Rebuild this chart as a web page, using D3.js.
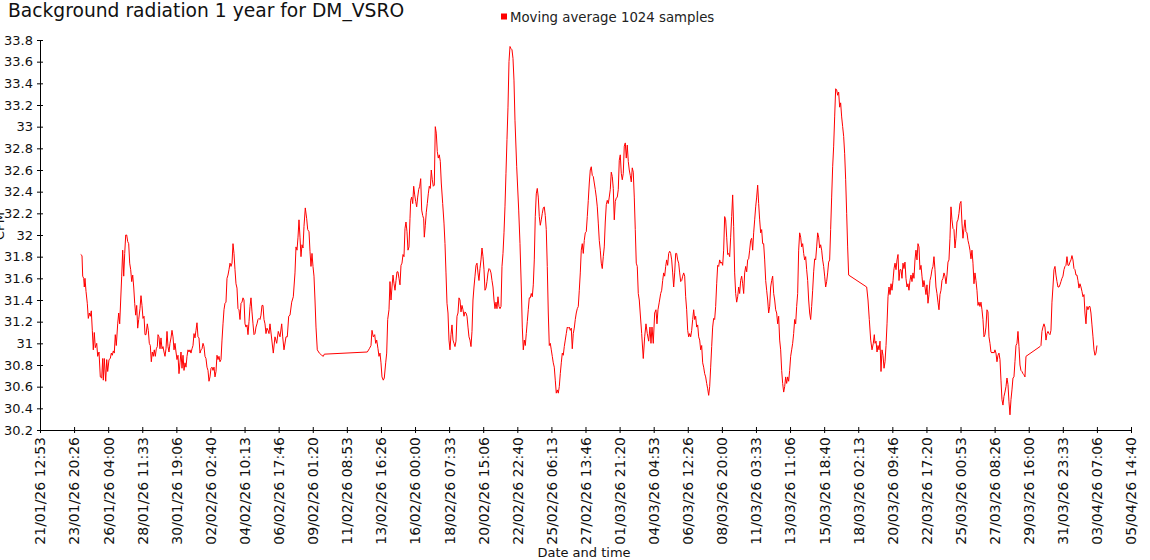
<!DOCTYPE html>
<html><head><meta charset="utf-8">
<script src="https://cdn.jsdelivr.net/npm/d3@7"></script>
<style>
body{margin:0;background:#fff}
svg{display:block}
text{font-family:"DejaVu Sans",Verdana,sans-serif}
</style>
</head><body>
<svg id="chart" width="1150" height="560"></svg>
<script>
const chartTitle = "Background radiation 1 year for DM_VSRO";
const seriesName = "Moving average 1024 samples";
const xAxisTitle = "Date and time";
const yAxisTitle = "CPM";

const yTicks = [30.2,30.4,30.6,30.8,31,31.2,31.4,31.6,31.8,32,32.2,32.4,32.6,32.8,33,33.2,33.4,33.6,33.8];

const xTickLabels = ["21/01/26 12:53","23/01/26 20:26","26/01/26 04:00","28/01/26 11:33","30/01/26 19:06",
"02/02/26 02:40","04/02/26 10:13","06/02/26 17:46","09/02/26 01:20","11/02/26 08:53","13/02/26 16:26",
"16/02/26 00:00","18/02/26 07:33","20/02/26 15:06","22/02/26 22:40","25/02/26 06:13","27/02/26 13:46",
"01/03/26 21:20","04/03/26 04:53","06/03/26 12:26","08/03/26 20:00","11/03/26 03:33","13/03/26 11:06",
"15/03/26 18:40","18/03/26 02:13","20/03/26 09:46","22/03/26 17:20","25/03/26 00:53","27/03/26 08:26",
"29/03/26 16:00","31/03/26 23:33","03/04/26 07:06","05/04/26 14:40"];

// sample time as fractional day of 2026 (0 = 1 Jan 00:00 UTC)
const dayOfYear = [
23.300,23.389,23.436,23.504,23.545,23.592,23.660,23.748,23.816,23.884,23.952,24.020,24.088,24.156,24.223,24.291,24.387,24.454,24.543,24.631,
24.726,24.794,24.835,24.903,24.998,25.066,25.133,25.222,25.310,25.378,25.446,25.514,25.581,25.649,25.717,25.812,25.880,25.948,26.016,26.084,
26.152,26.220,26.288,26.356,26.424,26.491,26.559,26.627,26.695,26.763,26.831,26.899,26.967,27.035,27.102,27.170,27.238,27.326,27.394,27.462,
27.530,27.598,27.666,27.734,27.822,27.890,27.958,28.026,28.094,28.161,28.229,28.297,28.365,28.433,28.501,28.549,28.616,28.684,28.752,28.820,
28.888,28.956,29.024,29.092,29.160,29.227,29.295,29.363,29.431,29.499,29.567,29.635,29.703,29.771,29.838,29.906,29.974,30.042,30.110,30.178,
30.246,30.314,30.382,30.449,30.517,30.585,30.653,30.721,30.789,30.857,30.925,30.993,31.060,31.128,31.196,31.264,31.332,31.400,31.468,31.536,
31.604,31.672,31.739,31.807,31.875,31.943,32.011,32.079,32.147,32.215,32.283,32.351,32.418,32.486,32.554,32.622,32.690,32.758,32.826,32.894,
32.962,33.029,33.097,33.165,33.233,33.301,33.369,33.437,33.505,33.573,33.640,33.708,33.776,33.844,33.912,33.980,34.048,34.116,34.184,34.251,
34.319,34.387,34.455,34.523,34.591,34.659,34.727,34.795,34.862,34.930,34.998,35.066,35.134,35.202,35.270,35.338,35.406,35.473,35.541,35.609,
35.677,35.745,35.813,35.881,35.949,36.017,36.084,
36.152,36.376,36.492,36.607,36.716,36.832,36.947,37.015,37.103,37.239,37.327,37.422,37.511,37.626,37.735,37.850,37.918,37.986,38.054,38.121,
38.189,38.257,38.325,38.393,38.461,38.549,38.644,38.712,38.801,38.868,38.936,39.004,39.072,39.140,39.208,39.276,39.364,39.500,39.663,39.771,39.839,
42.759,42.895,43.010,43.078,43.166,43.261,43.329,43.397,43.485,43.553,43.621,43.689,43.757,43.845,43.913,44.008,44.076,44.144,44.232,44.300,
44.368,44.436,44.504,44.572,44.640,44.707,44.775,44.843,44.911,44.979,45.047,45.115,45.183,45.250,45.318,45.386,45.454,45.522,45.590,45.658,
45.705,45.773,45.841,45.909,45.977,46.045,46.112,46.180,46.248,46.316,46.384,46.452,46.520,46.588,46.629,46.697,46.764,46.832,46.900,46.968,
47.036,47.104,47.172,47.240,47.308,47.375,47.443,47.511,47.579,47.647,47.715,47.783,47.878,47.966,48.034,48.102,48.170,48.238,48.306,48.374,
48.441,48.509,48.577,48.645,48.713,48.781,48.849,48.917,48.985,49.052,49.120,49.188,49.256,49.324,49.392,49.460,49.528,49.596,49.663,49.731,
49.799,49.867,49.935,50.003,50.071,50.139,50.207,50.274,50.342,50.410,50.478,50.546,50.614,50.682,50.750,50.818,50.885,50.953,51.021,51.089,
51.157,51.225,51.293,51.361,51.429,51.496,51.564,51.632,51.700,51.768,51.836,51.904,51.972,52.040,52.107,52.175,52.243,52.311,52.379,52.447,
52.515,52.583,52.651,52.718,52.786,52.902,53.038,53.126,53.214,53.282,53.350,53.418,53.486,53.553,53.621,53.689,53.757,53.825,53.893,53.961,
54.029,54.097,54.164,54.232,54.300,54.368,54.436,54.504,54.572,54.640,54.708,54.775,54.843,54.911,54.979,55.047,55.115,55.183,55.251,55.319,
55.386,55.454,55.522,55.590,55.658,55.726,55.794,55.862,55.930,55.998,56.065,56.133,56.201,56.269,56.337,56.405,56.473,56.541,56.609,56.676,
56.744,56.812,56.880,56.948,57.016,57.084,57.152,57.220,57.287,57.355,57.423,57.491,57.559,57.627,57.695,57.763,57.831,57.898,57.966,58.034,
58.102,58.170,58.238,58.306,58.374,58.442,58.509,58.577,58.645,58.713,58.781,58.849,58.917,58.985,59.053,59.120,59.188,59.256,59.324,59.392,
59.460,59.528,59.596,59.664,59.731,59.799,59.867,59.935,60.003,60.071,60.139,60.207,60.275,60.342,60.410,60.478,60.546,60.614,60.682,60.750,
60.818,60.886,60.953,61.021,61.089,61.157,61.225,
61.388,61.497,61.592,61.680,61.768,61.864,61.952,62.020,62.088,62.176,62.271,62.359,62.427,62.495,62.583,62.678,62.746,62.814,62.882,62.950,
63.018,63.086,63.153,63.221,63.289,63.357,63.425,63.493,63.561,63.629,63.697,63.764,63.832,63.900,63.968,64.036,64.104,64.172,64.240,64.308,
64.375,64.443,64.511,64.579,64.647,64.715,64.783,64.851,64.919,64.986,65.054,65.122,65.190,65.258,65.326,65.394,65.462,65.530,65.597,65.665,
65.733,65.801,65.869,65.937,66.005,66.073,66.141,66.208,66.276,66.344,66.412,66.480,66.548,66.616,66.684,66.752,66.819,66.887,66.955,67.023,
67.091,67.159,67.227,67.295,67.363,67.430,67.498,67.566,67.634,67.702,67.770,67.838,67.906,67.974,68.041,68.109,68.177,68.245,68.313,68.381,
68.449,68.517,68.585,68.652,68.720,68.788,68.856,68.924,68.992,69.060,69.128,69.196,69.263,69.331,69.399,69.467,69.535,69.603,69.671,69.739,
69.807,69.874,69.942,70.010,70.078,70.146,70.214,70.282,70.350,70.418,70.485,70.553,70.621,70.689,70.757,70.825,70.893,70.961,71.029,71.096,
71.164,71.232,71.300,71.368,71.436,71.504,71.572,71.640,71.707,71.775,71.843,71.911,71.979,72.047,72.115,72.183,72.251,72.318,72.386,72.454,
72.522,72.590,72.658,72.726,72.794,72.862,72.929,72.997,73.065,73.133,73.201,73.269,73.337,73.405,73.473,73.540,73.608,73.676,73.744,73.812,
73.880,73.948,74.016,74.084,74.151,74.219,74.287,74.355,74.423,74.491,74.559,74.627,74.695,74.762,74.830,74.898,74.966,75.034,75.102,75.170,
75.238,75.306,75.373,75.441,
76.665,76.755,76.843,76.938,77.027,77.115,77.183,77.231,77.299,77.367,77.435,77.503,77.570,77.638,77.706,77.774,77.842,77.910,77.978,78.046,
78.114,78.181,78.249,78.317,78.385,78.453,78.521,78.589,78.657,78.725,78.792,78.860,78.926,78.994,79.062,79.130,79.197,79.265,79.333,79.401,
79.469,79.537,79.605,79.673,79.741,79.808,79.876,79.944,80.012,80.080,80.148,80.216,80.284,80.352,80.419,80.487,80.555,80.623,80.691,80.759,
80.827,80.895,80.963,81.030,81.098,81.166,81.234,81.302,81.370,81.438,81.506,81.574,81.641,81.709,81.777,81.845,81.913,81.981,82.049,82.117,
82.185,82.252,82.320,82.388,82.456,82.524,82.592,82.660,82.728,82.796,82.863,82.931,82.999,83.067,83.135,83.203,83.271,83.339,83.407,83.474,
83.542,83.610,83.678,83.746,83.814,83.882,83.950,84.018,84.085,84.153,84.221,84.289,84.357,84.425,84.493,84.561,84.629,84.696,84.764,84.832,
84.900,84.968,85.036,85.104,85.172,85.240,85.307,85.375,85.443,85.511,85.579,85.647,85.715,85.783,85.851,85.918,85.986,86.054,86.122,86.190,
86.258,86.326,86.394,86.462,86.529,86.597,86.665,86.733,86.801,86.869,86.937,87.005,87.073,87.140,87.208,87.276,87.344,87.412,87.480,
88.430,88.498,88.566,88.634,88.702,88.770,88.838,88.906,88.974,89.042,89.110,89.177,89.245,89.313,89.381,89.449,89.517,89.585,89.653,89.721,
89.788,89.856,89.924,89.992,90.060,90.128,90.196,90.264,90.332,90.399,90.467,90.535,90.603,90.671,90.739,90.807,90.875,90.943,91.010,91.078,
91.146,91.214,91.282,91.350,91.418,91.486,91.554,91.621,91.689,91.757,91.825,91.893,91.961,92.029,92.097,92.165,92.232,92.300
];

// moving average, counts per minute
const cpm = [
31.82,31.81,31.62,31.60,31.52,31.60,31.48,31.37,31.23,31.28,31.25,31.30,31.12,30.94,31.10,30.96,31.00,30.88,30.92,30.69,
30.68,30.86,30.66,30.86,30.65,30.85,30.74,30.85,30.86,30.91,30.89,30.93,30.91,31.08,30.98,31.18,31.28,31.18,31.40,31.62,
31.86,31.62,31.83,32.00,32.00,31.94,31.92,31.74,31.68,31.57,31.63,31.52,31.37,31.26,31.35,31.14,31.22,31.32,31.44,31.35,
31.23,31.25,31.08,31.08,31.18,31.12,31.00,30.98,30.83,30.92,30.88,30.94,30.88,30.95,30.97,31.08,31.06,30.95,31.05,30.95,
30.97,30.92,30.88,30.95,31.11,30.97,30.92,31.00,31.05,31.12,31.06,30.94,31.00,30.92,30.85,30.89,30.72,30.82,30.92,30.77,
30.89,30.75,30.82,30.78,30.88,30.94,30.92,30.94,30.91,30.95,30.98,31.09,31.05,31.12,31.19,31.06,31.05,30.91,30.94,30.95,
31.00,30.97,30.88,30.86,30.78,30.75,30.65,30.69,30.77,30.78,30.75,30.78,30.69,30.74,30.89,30.85,30.88,30.83,30.85,31.03,
31.18,31.31,31.37,31.38,31.60,31.63,31.68,31.74,31.71,31.74,31.92,31.83,31.68,31.55,31.51,31.32,31.31,31.22,31.37,31.38,
31.42,31.40,31.18,31.15,31.17,31.08,31.20,31.34,31.42,31.29,31.18,31.08,31.09,31.15,31.18,31.22,31.23,31.22,31.26,31.35,
31.35,31.22,31.18,31.09,31.14,31.12,31.09,
31.18,30.91,31.06,31.00,31.11,31.06,31.18,31.06,30.94,31.06,31.06,31.25,31.26,31.38,31.43,31.65,31.89,31.86,31.98,32.14,
31.98,31.80,31.91,31.88,32.08,32.25,32.15,32.05,32.03,31.85,31.71,31.83,31.71,31.62,31.40,31.15,30.94,30.91,30.89,30.88,30.90,
30.92,30.95,30.98,31.12,31.06,31.08,31.00,31.03,30.95,30.88,30.91,30.82,30.69,30.66,30.68,30.82,30.91,31.22,31.31,31.57,
31.40,31.52,31.63,31.55,31.49,31.58,31.66,31.66,31.60,31.54,31.72,31.74,31.82,31.80,32.06,32.12,32.03,31.86,31.89,32.15,
32.32,32.35,32.29,32.45,32.37,32.31,32.26,32.35,32.42,32.45,32.52,32.23,32.18,32.15,31.98,32.09,32.21,32.29,32.38,32.45,
32.43,32.60,32.51,32.45,32.46,33.00,32.94,32.77,32.71,32.74,32.68,32.48,32.29,32.11,31.92,31.65,31.37,31.28,31.03,30.94,
31.08,31.17,31.03,31.00,30.97,31.02,31.25,31.28,31.42,31.40,31.29,31.35,31.31,31.25,31.29,31.28,31.25,31.15,31.06,31.03,
30.97,31.11,31.40,31.52,31.62,31.72,31.74,31.65,31.58,31.69,31.77,31.88,31.80,31.68,31.49,31.51,31.57,31.65,31.69,31.68,
31.65,31.58,31.52,31.40,31.32,31.38,31.32,31.43,31.34,31.32,31.34,31.71,31.83,32.02,32.26,32.57,32.88,33.18,33.60,33.74,
33.72,33.71,33.63,33.43,33.06,32.63,32.23,31.92,31.52,31.15,30.94,31.03,30.98,31.09,31.20,31.31,31.42,31.42,31.46,31.43,
31.54,31.77,32.17,32.38,32.43,32.35,32.17,32.09,32.14,32.20,32.25,32.26,32.18,32.05,31.71,31.28,30.98,31.00,30.94,30.88,
30.82,30.78,30.66,30.54,30.57,30.54,30.60,30.72,30.82,30.91,30.89,30.97,31.03,31.09,31.15,31.14,31.15,31.12,31.14,30.95,
31.09,31.14,31.22,31.28,31.32,31.34,31.49,31.65,31.86,31.92,31.83,31.95,32.02,32.03,32.17,32.32,32.48,32.60,32.63,32.55,
32.54,32.48,32.42,32.35,32.26,32.11,31.95,31.86,31.74,31.69,31.80,31.89,32.12,32.28,32.32,32.29,32.35,32.42,32.58,32.54,
32.43,32.14,32.31,32.34,32.35,32.42,32.69,32.74,32.57,32.51,32.57,32.82,32.85,32.71,32.83,32.68,32.60,32.55,32.49,32.62,
32.58,32.35,32.05,31.74,31.71,31.46,31.40,
31.09,30.86,31.06,31.18,31.09,31.02,31.15,31.00,31.15,31.00,31.28,31.31,31.18,31.31,31.38,31.46,31.49,31.58,31.65,31.62,
31.71,31.77,31.72,31.83,31.85,31.83,31.77,31.65,31.52,31.65,31.83,31.83,31.77,31.74,31.65,31.57,31.58,31.62,31.65,31.62,
31.43,31.31,31.12,31.06,31.09,31.06,31.12,31.22,31.31,31.22,31.25,31.15,31.17,31.06,31.03,30.94,30.98,30.82,30.78,30.72,
30.69,30.63,30.58,30.52,30.60,30.78,30.97,31.15,31.23,31.22,31.34,31.55,31.72,31.71,31.77,31.74,31.75,31.72,31.86,32.17,
32.14,31.98,31.82,31.83,31.80,31.98,32.17,32.37,32.08,31.65,31.46,31.38,31.43,31.52,31.46,31.58,31.62,31.55,31.46,31.65,
31.71,31.66,31.77,31.78,31.86,31.95,31.97,31.86,32.02,32.14,32.26,32.35,32.46,32.29,32.14,32.02,32.05,31.92,31.92,31.77,
31.58,31.49,31.40,31.28,31.34,31.52,31.58,31.62,31.46,31.40,31.31,31.28,31.18,31.25,31.03,30.94,30.75,30.63,30.55,30.60,
30.69,30.63,30.69,30.65,30.75,30.88,30.94,31.00,31.09,31.22,31.18,31.34,31.46,31.86,32.02,31.98,31.89,31.92,31.83,31.77,
31.80,31.68,31.58,31.40,31.28,31.22,31.34,31.49,31.66,31.78,31.77,31.89,32.02,31.98,31.88,31.91,31.86,31.77,31.71,31.62,
31.52,31.57,31.65,31.75,31.77,32.05,32.35,32.63,32.82,33.09,33.35,33.34,33.29,33.32,33.18,33.22,33.09,33.00,32.91,32.75,
32.51,32.20,31.89,31.63,
31.52,31.40,31.22,31.03,30.94,31.00,31.08,31.00,31.02,30.92,30.98,30.94,31.02,30.74,30.94,30.89,30.77,30.83,30.98,31.18,
31.43,31.52,31.45,31.55,31.49,31.58,31.69,31.74,31.68,31.77,31.82,31.58,31.68,31.68,31.60,31.74,31.69,31.75,31.60,31.52,
31.55,31.49,31.58,31.63,31.57,31.65,31.60,31.77,31.86,31.77,31.92,31.89,31.68,31.72,31.62,31.52,31.58,31.52,31.45,31.54,
31.37,31.45,31.58,31.62,31.68,31.71,31.80,31.68,31.52,31.46,31.38,31.31,31.45,31.49,31.58,31.60,31.65,31.62,31.55,31.63,
31.75,31.77,31.97,32.26,32.14,32.06,32.05,31.88,31.97,32.12,32.14,32.20,32.29,32.31,32.11,31.97,32.06,32.14,32.03,32.02,
31.95,31.91,31.86,31.78,31.86,31.74,31.55,31.65,31.58,31.49,31.35,31.38,31.34,31.38,31.31,31.22,31.06,31.08,31.15,31.31,
31.29,31.06,31.00,30.92,30.91,30.92,30.91,30.94,30.91,30.83,30.89,30.91,30.85,30.66,30.48,30.43,30.51,30.55,30.60,30.68,
30.62,30.46,30.34,30.48,30.57,30.68,30.69,30.83,30.98,31.00,31.11,30.97,30.80,30.75,30.74,30.72,30.71,30.69,30.88,
30.97,30.98,31.11,31.15,31.18,31.15,31.03,31.09,31.11,31.09,31.08,31.12,31.38,31.52,31.68,31.71,31.63,31.57,31.52,31.52,
31.54,31.57,31.60,31.62,31.68,31.71,31.72,31.80,31.72,31.72,31.75,31.77,31.81,31.77,31.69,31.68,31.63,31.63,31.58,31.51,
31.55,31.52,31.48,31.43,31.45,31.28,31.18,31.34,31.31,31.34,31.34,31.28,31.17,31.06,30.94,30.89,30.91,30.98
];

if (dayOfYear.length !== cpm.length) {
  throw new Error("length mismatch: days " + dayOfYear.length + " cpm " + cpm.length);
}

const yearStart = Date.UTC(2026, 0, 1);
const data = dayOfYear.map((d, i) => ({ t: new Date(yearStart + d * 864e5), v: cpm[i] }));

const parseTick = d3.utcParse("%d/%m/%y %H:%M");
const xTickDates = xTickLabels.map(parseTick);

const svg = d3.select("#chart");
const margin = { left: 40, right: 19, top: 40, bottom: 130 };
const W = 1150, H = 560;

const x = d3.scaleUtc()
  .domain([xTickDates[0], xTickDates[xTickDates.length - 1]])
  .range([margin.left, W - margin.right]);
const y = d3.scaleLinear()
  .domain([yTicks[0], yTicks[yTicks.length - 1]])
  .range([H - margin.bottom, margin.top]);

// title
svg.append("text")
  .attr("x", 8).attr("y", 17)
  .attr("font-size", "18.7px")
  .attr("fill", "#111")
  .text(chartTitle);

// legend
const lg = svg.append("g");
lg.append("rect").attr("x", 501).attr("y", 13.5).attr("width", 6).attr("height", 6).attr("fill", "#ff0000");
lg.append("text").attr("x", 510).attr("y", 22).attr("font-size", "13.3px").attr("fill", "#222").text(seriesName);

// y axis
const yAxis = svg.append("g")
  .attr("transform", `translate(${margin.left},0)`)
  .call(d3.axisLeft(y).tickValues(yTicks)
    .tickFormat(d => String(+d.toFixed(1)))
    .tickSizeOuter(0).tickSizeInner(3).tickPadding(4));
yAxis.selectAll(".tick line").attr("x1", -3).attr("x2", 3);
yAxis.selectAll("text").attr("font-size", "13px").attr("font-family", "DejaVu Sans").attr("fill", "#111");

// x axis
const xAxis = svg.append("g")
  .attr("transform", `translate(0,${H - margin.bottom})`)
  .call(d3.axisBottom(x).tickValues(xTickDates)
    .tickFormat((d, i) => xTickLabels[i])
    .tickSizeOuter(0).tickSizeInner(3));
xAxis.selectAll(".tick line").attr("y1", -3).attr("y2", 3);
xAxis.selectAll("text")
  .attr("font-size", "14px").attr("font-family", "DejaVu Sans").attr("fill", "#111")
  .attr("transform", "rotate(-90)")
  .attr("x", -7).attr("y", 0).attr("dy", "0.35em")
  .style("text-anchor", "end");
svg.selectAll(".domain").attr("stroke", "#000");
svg.selectAll(".tick line").attr("stroke", "#000");

// axis titles
svg.append("text")
  .attr("x", 584).attr("y", 557)
  .attr("text-anchor", "middle").attr("font-size", "13px").attr("fill", "#111")
  .text(xAxisTitle);
svg.append("text")
  .attr("transform", "translate(4,226) rotate(-90)")
  .attr("text-anchor", "middle").attr("font-size", "13px").attr("fill", "#111")
  .text(yAxisTitle);

// series line
const line = d3.line().x(d => x(d.t)).y(d => y(d.v));
svg.append("path")
  .datum(data)
  .attr("fill", "none")
  .attr("stroke", "#ff0000")
  .attr("stroke-width", 1)
  .attr("stroke-linejoin", "round")
  .attr("d", line);
</script>
</body></html>
